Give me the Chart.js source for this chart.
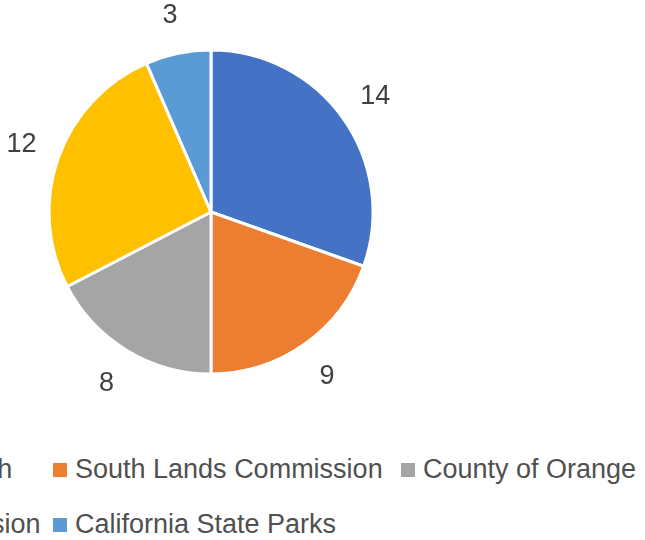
<!DOCTYPE html>
<html>
<head>
<meta charset="utf-8">
<script src="https://cdn.jsdelivr.net/npm/chart.js@4/dist/chart.umd.min.js"></script>
<style>
html,body{margin:0;padding:0;background:#fff;overflow:hidden}
#wrap{position:relative;width:645px;height:540px;overflow:hidden}
#pie{position:absolute;left:0;top:0;width:645px;height:440px}
#legend{position:absolute;left:-295px;top:442px;display:grid;grid-template-columns:repeat(3,348px);grid-auto-rows:55px;
  font:27px "Liberation Sans",Arial,sans-serif;color:#505050}
.item{display:flex;align-items:center;white-space:nowrap}
.sw{width:14px;height:14px;margin-right:8px;flex:none}
</style>
</head>
<body>
<div id="wrap">
  <div id="pie"><canvas id="c"></canvas></div>
  <div id="legend"></div>
</div>
<script>
const agencies=['Town of Newport Beach','South Lands Commission','County of Orange','Fish & Game Commission','California State Parks'];
const counts=[14,9,8,12,3];
const colors=['#4472C4','#ED7D31','#A5A5A5','#FFC000','#5B9BD5'];

// value labels outside each slice
const outsideLabels={id:'outsideLabels',afterDatasetsDraw(chart){
  const ctx=chart.ctx;
  ctx.save();
  ctx.font='27px "Liberation Sans", Arial, sans-serif';
  ctx.fillStyle='#404040';ctx.textAlign='center';ctx.textBaseline='middle';
  chart.getDatasetMeta(0).data.forEach((arc,i)=>{
    const p=arc.getProps(['x','y','startAngle','endAngle','outerRadius'],true);
    const mid=(p.startAngle+p.endAngle)/2, r=p.outerRadius+39;
    ctx.fillText(String(counts[i]), p.x+Math.cos(mid)*r, p.y+Math.sin(mid)*r);
  });
  ctx.restore();
}};

const chart=new Chart(document.getElementById('c'),{
  type:'pie',
  data:{labels:agencies,datasets:[{data:counts,backgroundColor:colors,borderColor:'#fff',borderWidth:3}]},
  options:{responsive:true,maintainAspectRatio:false,animation:false,radius:162,
    layout:{padding:{left:0,top:0,right:223,bottom:16}},
    plugins:{legend:{display:false},tooltip:{enabled:false}}},
  plugins:[outsideLabels]
});

// html legend laid out in equal columns like the spreadsheet
const leg=document.getElementById('legend');
chart.data.labels.forEach((lab,i)=>{
  const it=document.createElement('div');it.className='item';
  const sw=document.createElement('span');sw.className='sw';sw.style.background=colors[i];
  const tx=document.createElement('span');tx.textContent=lab;
  it.appendChild(sw);it.appendChild(tx);leg.appendChild(it);
});
</script>
</body>
</html>
